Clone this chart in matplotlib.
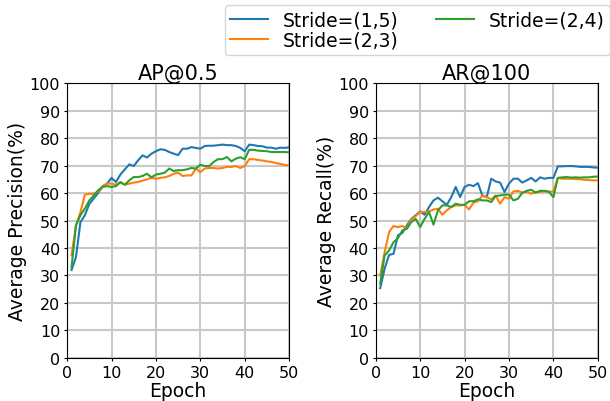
import matplotlib
matplotlib.use("Agg")
from matplotlib import pyplot as plt

epochs = list(range(1, 51))

ap_s15 = [32.0, 36.7, 49.4, 51.9, 56.0, 58.0, 60.0, 62.5, 63.4, 65.5,
          64.0, 66.7, 68.6, 70.4, 69.8, 71.9, 73.7, 72.9, 74.3, 75.2,
          75.9, 75.7, 74.9, 74.3, 73.8, 76.1, 76.1, 76.7, 76.4, 76.1,
          77.1, 77.2, 77.2, 77.4, 77.6, 77.4, 77.4, 77.1, 76.4, 75.2,
          77.6, 77.4, 77.1, 77.0, 76.5, 76.5, 76.1, 76.5, 76.4, 76.6]
ap_s23 = [37.3, 48.2, 53.0, 59.4, 59.7, 59.7, 60.4, 62.5, 63.4, 63.4,
          63.0, 63.8, 63.0, 63.4, 63.8, 64.0, 64.5, 65.0, 65.5, 65.2,
          65.5, 65.7, 66.2, 67.0, 67.4, 66.2, 66.4, 66.4, 68.9, 67.6,
          68.9, 69.1, 69.1, 68.9, 69.1, 69.5, 69.5, 69.8, 69.1, 69.8,
          72.3, 72.3, 72.0, 71.8, 71.5, 71.3, 70.9, 70.6, 70.2, 70.1]
ap_s24 = [33.0, 48.2, 51.9, 54.3, 57.3, 59.1, 61.0, 62.2, 62.5, 62.2,
          62.5, 64.0, 63.0, 64.6, 65.8, 65.8, 66.2, 67.0, 65.7, 66.7,
          67.0, 67.4, 68.9, 68.0, 68.3, 68.3, 68.6, 69.1, 68.9, 70.3,
          69.8, 69.8, 71.3, 72.3, 72.3, 73.1, 71.5, 72.5, 73.0, 72.3,
          75.7, 75.7, 75.4, 75.3, 75.2, 74.9, 74.9, 74.9, 74.9, 74.8]

ar_s15 = [25.4, 32.5, 37.5, 37.9, 44.6, 45.5, 48.2, 50.6, 51.9, 53.3,
          52.1, 54.9, 57.3, 58.3, 57.0, 55.7, 58.5, 62.2, 58.5, 62.2,
          63.0, 62.5, 63.6, 59.1, 58.5, 65.2, 64.2, 63.8, 60.4, 63.4,
          65.2, 65.2, 63.8, 64.6, 65.5, 64.2, 65.7, 65.2, 65.5, 65.5,
          69.7, 69.7, 69.8, 69.8, 69.7, 69.5, 69.5, 69.5, 69.3, 69.2]
ar_s23 = [30.0, 38.5, 45.8, 48.0, 47.6, 48.0, 47.2, 50.4, 51.6, 53.1,
          53.1, 53.3, 54.0, 54.3, 52.1, 53.7, 54.9, 55.5, 55.5, 55.7,
          54.0, 56.5, 57.0, 59.1, 58.5, 57.7, 59.1, 56.1, 58.5, 57.9,
          60.6, 60.8, 60.1, 60.4, 59.7, 60.4, 60.4, 60.6, 60.6, 60.4,
          65.5, 65.2, 65.2, 65.2, 65.1, 65.0, 64.8, 64.7, 64.6, 64.6]
ar_s24 = [27.0, 37.3, 39.1, 42.1, 43.6, 46.4, 47.0, 49.4, 50.6, 47.6,
          50.6, 53.1, 48.5, 53.7, 55.5, 55.5, 54.9, 56.1, 55.7, 55.7,
          57.0, 57.0, 57.7, 57.3, 57.3, 56.7, 58.9, 59.1, 59.4, 59.4,
          57.3, 57.9, 60.1, 60.8, 61.2, 60.1, 60.8, 60.8, 60.4, 58.5,
          65.5, 65.7, 65.8, 65.6, 65.7, 65.6, 65.7, 65.7, 65.9, 66.0]

labels = ["Stride=(1,5)", "Stride=(2,3)", "Stride=(2,4)"]
colors = ["#1f77b4", "#ff7f0e", "#2ca02c"]

fig = plt.figure(figsize=(6.1, 4.02), dpi=100)
ax1 = fig.add_axes([0.110, 0.107, 0.364, 0.684])
ax2 = fig.add_axes([0.616, 0.107, 0.364, 0.684])

panels = [
    (ax1, "AP@0.5", "Average Precision(%)", [ap_s15, ap_s23, ap_s24]),
    (ax2, "AR@100", "Average Recall(%)", [ar_s15, ar_s23, ar_s24]),
]

lines = []
for ax, title, ylabel, series in panels:
    ax.grid(True, color="#c8c8c8", linewidth=1.5)
    ax.set_axisbelow(True)
    lines = []
    for vals, lab, c in zip(series, labels, colors):
        (ln,) = ax.plot(epochs, vals, color=c, linewidth=1.5, label=lab)
        lines.append(ln)
    ax.set_xlim(0, 50)
    ax.set_ylim(0, 100)
    ax.set_xticks(range(0, 51, 10))
    ax.set_yticks(range(0, 101, 10))
    ax.tick_params(labelsize=11.5, length=2.5, pad=2.5)
    ax.set_title(title, fontsize=15, pad=3)
    ax.set_xlabel("Epoch", fontsize=13.5, labelpad=1)
    ax.set_ylabel(ylabel, fontsize=13.5, labelpad=2)

fig.legend(lines, labels, ncol=2, loc="upper right", bbox_to_anchor=(1.0, 0.985),
           fontsize=13.5, handlelength=2.0, labelspacing=0.05, columnspacing=2.0,
           borderpad=0.3, handletextpad=0.8, borderaxespad=0.0)

fig.savefig("out.png", dpi=100)
